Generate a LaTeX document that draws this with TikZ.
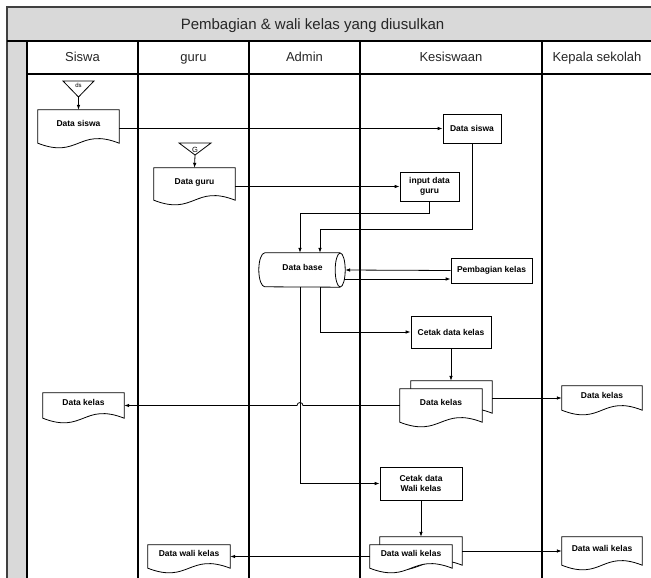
\documentclass[tikz,border=0pt]{standalone}
\usepackage{fontspec}
\setmainfont{Liberation Sans}
\usetikzlibrary{arrows.meta,calc}

\pgfdeclarelayer{lanes}
\pgfdeclarelayer{shapes}
\pgfsetlayers{lanes,shapes,main}

\definecolor{band}{HTML}{D9D9D9}

\tikzset{
  lane/.style={line width=1.1pt, draw=black},
  hdr/.style={font=\fontsize{13}{15}\selectfont, text=black!85, inner sep=0pt, anchor=base},
  proc/.style={draw, line width=0.8pt, fill=white, inner sep=0pt, align=center,
    font=\fontsize{8.5}{10}\selectfont\bfseries},
  docbox/.style={inner sep=0pt, align=center, text height=6pt, text depth=6pt,
    font=\fontsize{8.5}{10}\selectfont\bfseries},
  trilabel/.style={inner sep=0pt, font=\fontsize{6}{7}\selectfont},
  conn/.style={line width=0.8pt, -{Latex[length=5pt,width=3.6pt]}},
  wire/.style={line width=0.8pt},
  docline/.style={line width=0.8pt, fill=white},
  docof/.style={insert path={(#1.north west) -- (#1.south west)
      .. controls ($(#1.south)+(0,16)$) and ($(#1.south)+(0,-16)$) .. (#1.south east)
      -- (#1.north east) -- cycle}},
}

\begin{document}
\begin{tikzpicture}[x=1pt,y=-1pt]
\useasboundingbox (0,0) rectangle (651,578);

% swimlane frame
\begin{pgfonlayer}{lanes}
  \fill[band] (7,7) rectangle (656,41);
  \fill[band] (7,41) rectangle (27,582);
  \draw[line width=1.6pt, draw=black!75] (7,582) -- (7,7) -- (656,7);
  \draw[lane] (7,41) -- (656,41);
  \draw[lane] (27,74) -- (656,74);
  \foreach \lx in {27,138,249,360,542}
    \draw[lane] (\lx,41) -- (\lx,582);
\end{pgfonlayer}

% titles
\node[hdr, font=\fontsize{15}{17}\selectfont] (title) at (312.5,30) {Pembagian \& wali kelas yang diusulkan};
\node[hdr] (hSiswa) at (82.5,62) {Siswa};
\node[hdr] (hGuru) at (193.5,62) {guru};
\node[hdr] (hAdmin) at (304.5,62) {Admin};
\node[hdr] (hKes) at (451,62) {Kesiswaan};
\node[hdr] (hKep) at (597,62) {Kepala sekolah};

% off-page references
\node[trilabel] (ds) at (78.5,85.5) {ds};
\draw[wire] (63,81) -- (94,81) -- (78.5,97) coordinate (dsA) -- cycle;
\node[trilabel, font=\fontsize{7.5}{8}\selectfont] (G) at (195,149.5) {G};
\draw[wire] (179,143) -- (211,143) -- (195,155) coordinate (gA) -- cycle;

% documents
\node[docbox, minimum width=81, minimum height=33] (dsiswa) at (78.5,126.5) {Data siswa};
\node[docbox, minimum width=81, minimum height=32] (dguru) at (194.5,184) {Data guru};
\node[docbox, minimum width=81, minimum height=25] (dkelasS) at (83.5,405.5) {Data kelas};
\node[docbox, minimum width=80, minimum height=24] (dkelasK) at (602,398) {Data kelas};
\node[docbox, minimum width=82, minimum height=23] (dwaliG) at (189,556.5) {Data wali kelas};
\node[docbox, minimum width=80, minimum height=28] (dwaliK) at (602,551) {Data wali kelas};
\node[docbox, minimum width=81, minimum height=32] (mback1) at (451.5,397) {};
\node[docbox, minimum width=82, minimum height=33] (mfront1) at (441,405.5) {Data kelas};
\node[docbox, minimum width=82, minimum height=28] (mback2) at (421,551) {};
\node[docbox, minimum width=82, minimum height=23] (mfront2) at (411,556.5) {Data wali kelas};

\begin{pgfonlayer}{shapes}
  \foreach \d in {dsiswa,dguru,dkelasS,dkelasK,dwaliG,dwaliK,mback1,mfront1,mback2,mfront2}
    \draw[docline, docof=\d];
\end{pgfonlayer}

% processes
\node[proc, minimum width=58, minimum height=29] (psiswa) at (472,128.5) {Data siswa};
\node[proc, minimum width=59, minimum height=29] (pinput) at (429.5,186.5) {input data\\guru};
\node[proc, minimum width=81, minimum height=25] (pbagi) at (491.5,270.5) {Pembagian kelas};
\node[proc, minimum width=80, minimum height=32] (pcetak) at (451,332) {Cetak data kelas};
\node[proc, minimum width=82, minimum height=33] (pwali) at (421,483.5) {Cetak data\\Wali kelas};

% database (direct access storage)
\node[docbox, minimum width=75, minimum height=34] (db) at (302.5,270) {Data base};
\draw[wire] (db.north east) -- (db.north west)
  arc[start angle=90, end angle=270, x radius=6pt, y radius=17pt] -- (db.south east);
\draw[wire] (db.east) ellipse[x radius=5pt, y radius=17pt];

% connectors
\draw[conn] (dsA) -- (dsiswa.north);
\draw[conn] (gA) -- (dguru.north);
\draw[conn] (dsiswa.east |- psiswa.west) -- (psiswa.west);
\draw[conn] (dguru.east |- pinput.west) -- (pinput.west);
\draw[conn] (pinput.south) -- ++(0,12) -| ([xshift=-2.5pt]db.north);
\draw[conn] (psiswa.south) -- ++(0,86) -| ([xshift=17.5pt]db.north);
\draw[conn] (pbagi.west) -- ([xshift=5pt]db.east);
\draw[conn] ($(db.east)+(4,9)$) coordinate (dbo) -- (dbo -| pbagi.west);
\draw[conn] ([xshift=17.5pt]db.south) |- (pcetak.west);
\draw[conn] (pcetak.south) -- (pcetak.south |- mback1.north);
\draw[conn] (dkelasK.west -| mback1.east) -- (dkelasK.west);
\coordinate (vl) at ([xshift=-2.5pt]db.south);
\draw[conn] (mfront1.west) -- ([xshift=3pt]vl |- mfront1.west)
  arc[start angle=0, end angle=180, radius=3pt] -- (dkelasS.east);
\draw[conn] (vl) |- (pwali.west);
\draw[conn] (pwali.south) -- (pwali.south |- mback2.north);
\draw[conn] (mback2.east) -- (dwaliK.west);
\draw[conn] (mfront2.west) -- (dwaliG.east);
\end{tikzpicture}
\end{document}
